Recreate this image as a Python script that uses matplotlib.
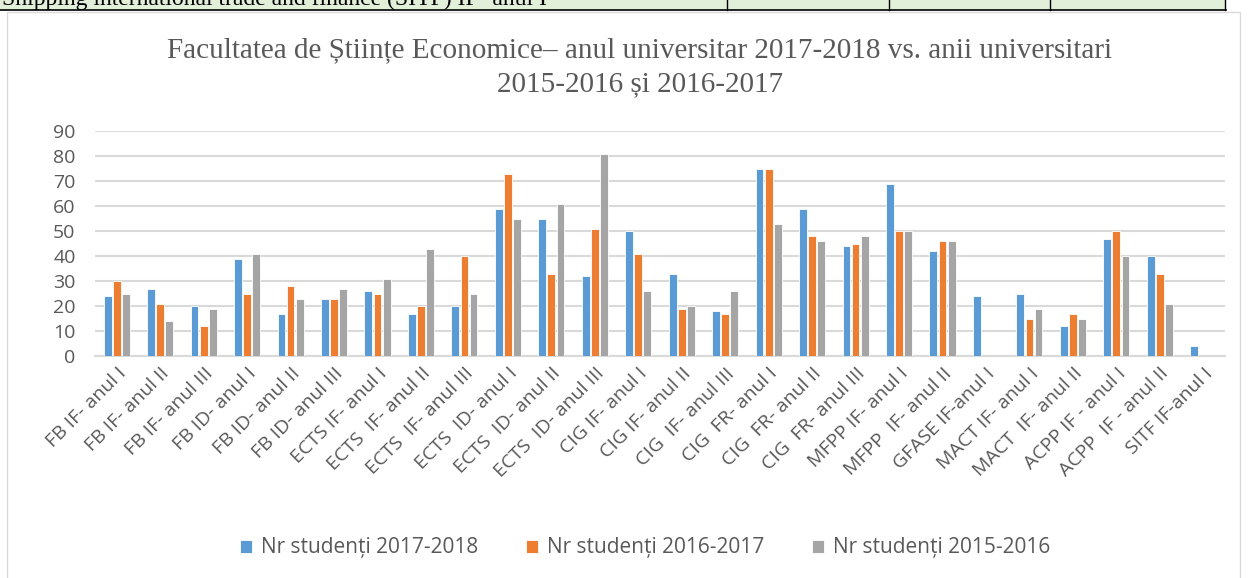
import numpy as np
import matplotlib
matplotlib.use('Agg')
import matplotlib.pyplot as plt
from matplotlib import patches

plt.rcParams['font.family'] = ['Open Sans', 'DejaVu Sans']

# categorii (etichetele de pe axa x)
categories = ["FB IF- anul I", "FB IF- anul II", "FB IF- anul III", "FB ID- anul I",
              "FB ID- anul II", "FB ID- anul III", "ECTS IF- anul I", "ECTS  IF- anul II",
              "ECTS  IF- anul III", "ECTS  ID- anul I", "ECTS  ID- anul II", "ECTS  ID- anul III",
              "CIG IF- anul I", "CIG IF- anul II", "CIG  IF- anul III", "CIG  FR- anul I",
              "CIG  FR- anul II", "CIG  FR- anul III", "MFPP IF- anul I", "MFPP  IF- anul II",
              "GFASE IF-anul I", "MACT IF- anul I", "MACT  IF- anul II", "ACPP IF - anul I",
              "ACPP  IF - anul II", "SITF IF-anul I"]
nr_2017_2018 = [24, 27, 20, 39, 17, 23, 26, 17, 20, 59, 55, 32, 50, 33, 18, 75, 59, 44, 69, 42, 24, 25, 12, 47, 40, 4]
nr_2016_2017 = [30, 21, 12, 25, 28, 23, 25, 20, 40, 73, 33, 51, 41, 19, 17, 75, 48, 45, 50, 46, 0, 15, 17, 50, 33, 0]
nr_2015_2016 = [25, 14, 19, 41, 23, 27, 31, 43, 25, 55, 61, 81, 26, 20, 26, 53, 46, 48, 50, 46, 0, 19, 15, 40, 21, 0]
series_names = ["Nr studenți 2017-2018", "Nr studenți 2016-2017", "Nr studenți 2015-2016"]
yticks = [0, 10, 20, 30, 40, 50, 60, 70, 80, 90]

colors = ['#5b9bd5', '#ed7d31', '#a5a5a5']
W, H = 1250, 578

fig = plt.figure(figsize=(W / 100, H / 100), dpi=100)

# banda de tabel taiata de sus
fig.patches.append(patches.Rectangle((0, 1 - 10 / H), 1226 / W, 10 / H, transform=fig.transFigure,
                                     facecolor='#e2efd9', edgecolor='none', zorder=0))
fig.add_artist(plt.Line2D([0, 1226 / W], [1 - 10 / H, 1 - 10 / H], transform=fig.transFigure,
                          color='black', lw=1.2))
for xv in [727, 889, 1050, 1225]:
    fig.add_artist(plt.Line2D([xv / W, xv / W], [1 - 10 / H, 1], transform=fig.transFigure,
                              color='black', lw=1))
fig.text(2 / W, 1 - 5 / H, "Shipping international trade and finance (SITF) IF- anul I",
         family='Liberation Serif', fontsize=17, va='baseline', ha='left', color='black')

# chenarul graficului
fig.patches.append(patches.Rectangle((7 / W, -0.01), 1233 / W, 1 - 12 / H + 0.01, transform=fig.transFigure,
                                     facecolor='none', edgecolor='#d9d9d9', lw=1))

ax = fig.add_axes([95 / W, 1 - 356 / H, (1225 - 95) / W, (356 - 131) / H])

x = np.arange(len(categories))
bw = 0.18
for i, vals in enumerate([nr_2017_2018, nr_2016_2017, nr_2015_2016]):
    ax.bar(x + (i - 1) * (bw + 0.03), vals, bw, color=colors[i], label=series_names[i],
           edgecolor='white', linewidth=0.6, zorder=3)

ax.set_ylim(0, 90)
ax.set_xlim(-0.5, len(categories) - 0.5)
ax.set_yticks(yticks)
ax.yaxis.grid(True, color='#d9d9d9', lw=1.5, zorder=0)
for s in ['top', 'right', 'left']:
    ax.spines[s].set_visible(False)
ax.spines['bottom'].set_color('#d9d9d9')
ax.spines['bottom'].set_linewidth(1.5)
ax.tick_params(axis='both', length=0, colors='#595959', labelsize=14)
ax.tick_params(axis='y', pad=14)
ax.tick_params(axis='x', pad=6)
ax.set_xticks(x)
ax.set_xticklabels(categories, rotation=45, ha='right', rotation_mode='anchor', fontsize=14)

fig.text(640 / W, 1 - 50 / H, "Facultatea de Științe Economice– anul universitar 2017-2018 vs. anii universitari",
         family='Liberation Serif', fontsize=21, color='#595959', ha='center', va='center')
fig.text(640 / W, 1 - 84 / H, "2015-2016 și 2016-2017",
         family='Liberation Serif', fontsize=21, color='#595959', ha='center', va='center')

leg = fig.legend(loc='center', bbox_to_anchor=(645 / W, 1 - 548 / H), ncol=3, frameon=False,
                 fontsize=15, handlelength=0.6, handleheight=0.6, columnspacing=2.3, handletextpad=0.4)
for t in leg.get_texts():
    t.set_color('#595959')

fig.savefig('out.png', dpi=100)
